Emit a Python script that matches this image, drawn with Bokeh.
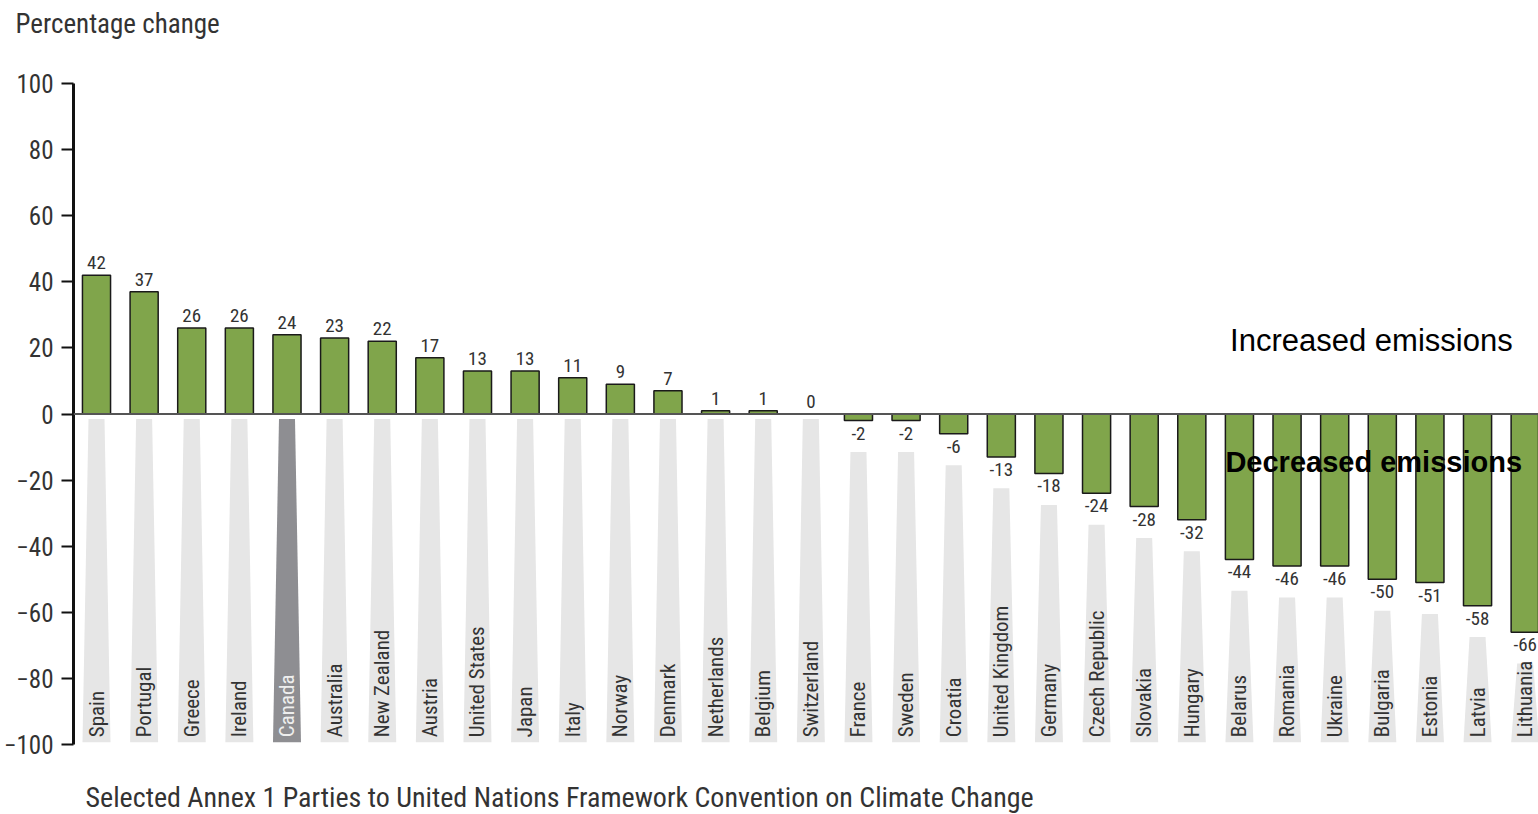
import math
from bokeh.plotting import figure
from bokeh.models import (ColumnDataSource, Range1d, FixedTicker, Span, Title)
from bokeh.core.properties import value
from bokeh.embed import file_html
from bokeh.resources import INLINE

countries = ["Spain", "Portugal", "Greece", "Ireland", "Canada", "Australia",
             "New Zealand", "Austria", "United States", "Japan", "Italy", "Norway",
             "Denmark", "Netherlands", "Belgium", "Switzerland", "France", "Sweden",
             "Croatia", "United Kingdom", "Germany", "Czech Republic", "Slovakia",
             "Hungary", "Belarus", "Romania", "Ukraine", "Bulgaria", "Estonia",
             "Latvia", "Lithuania"]
values = [42, 37, 26, 26, 24, 23, 22, 17, 13, 13, 11, 9, 7, 1, 1, 0,
          -2, -2, -6, -13, -18, -24, -28, -32, -44, -46, -46, -50, -51, -58, -66]
highlight = "Canada"
y_ticks = [-100, -80, -60, -40, -20, 0, 20, 40, 60, 80, 100]

NARROW = "Liberation Sans Narrow, Roboto Condensed, DejaVu Sans Condensed, sans-serif"
GREEN = "#80a54b"
TEXT = "#333333"

idx = list(range(len(countries)))

p = figure(width=1538, height=814, output_backend="svg", toolbar_location=None,
           x_range=Range1d(-0.483, 30.28), y_range=Range1d(-100, 100),
           min_border_left=73, min_border_right=0, min_border_top=83,
           min_border_bottom=70, background_fill_color="white",
           border_fill_color="white")
p.outline_line_color = None
p.grid.visible = False
p.xaxis.visible = False

# y axis
ya = p.yaxis[0]
ya.ticker = FixedTicker(ticks=y_ticks)
ya.axis_line_width = 3
ya.axis_line_color = "#111111"
ya.major_tick_line_width = 2
ya.major_tick_line_color = "#111111"
ya.major_tick_out = 12
ya.major_tick_in = 0
ya.minor_tick_line_color = None
ya.major_label_text_font = NARROW
ya.major_label_text_font_size = "25px"
ya.major_label_text_color = TEXT
ya.major_label_standoff = 8

# label trapezoids
xs_list, ys_list, fills, tcolors = [], [], [], []
for i, v in zip(idx, values):
    top = -1.5 if v >= 0 else v - 9.5
    bot = -99.3
    tw, bw = 0.168, 0.294
    xs_list.append([i - tw, i + tw, i + bw, i - bw])
    ys_list.append([top, top, bot, bot])
    hi = countries[i] == highlight
    fills.append("#8e8e92" if hi else "#e6e6e6")
    tcolors.append("#eeeeee" if hi else TEXT)
psrc = ColumnDataSource(dict(xs=xs_list, ys=ys_list, fill=fills))
p.patches("xs", "ys", source=psrc, fill_color="fill", line_color=None)

# bars
bsrc = ColumnDataSource(dict(x=idx, top=values))
p.vbar(x="x", top="top", bottom=0, width=0.59, source=bsrc,
       fill_color=GREEN, line_color="#1a1a1a", line_width=1.5)

# zero line
p.add_layout(Span(location=0, dimension="width", line_color="#555555", line_width=2))

# country labels
lsrc = ColumnDataSource(dict(x=idx, y=[-97.8] * len(idx), t=countries, c=tcolors))
p.text(x="x", y="y", text="t", source=lsrc, angle=math.pi / 2,
       text_align="left", text_baseline="middle", text_color="c",
       text_font=value(NARROW), text_font_size="21px")

# value labels
pos = [(i, v) for i, v in zip(idx, values) if v >= 0]
neg = [(i, v) for i, v in zip(idx, values) if v < 0]
p.text(x=[a for a, _ in pos], y=[b for _, b in pos], text=[str(b) for _, b in pos],
       text_align="center", text_baseline="bottom", y_offset=-6,
       text_color=TEXT, text_font=value(NARROW), text_font_size="19px")
p.text(x=[a for a, _ in neg], y=[b for _, b in neg], text=[str(b) for _, b in neg],
       text_align="center", text_baseline="top", y_offset=6,
       text_color=TEXT, text_font=value(NARROW), text_font_size="19px")

# annotations
p.text(x=[26.77], y=[22.2], text=["Increased emissions"], text_align="center",
       text_baseline="middle", text_color="#000000",
       text_font=value("Liberation Sans"), text_font_size="31px")
p.text(x=[26.82], y=[-14.4], text=["Decreased emissions"], text_align="center",
       text_baseline="middle", text_color="#000000", text_font_style="bold",
       text_font=value("Liberation Sans"), text_font_size="29px")

# spacers (closest to the frame) then titles
p.add_layout(Title(text=" ", text_font_size="1px", standoff=36), "above")
p.title = Title(text="Percentage change", align="left", offset=-58, standoff=10,
                text_font=NARROW, text_font_size="27px",
                text_font_style="normal", text_color=TEXT)
p.add_layout(Title(text=" ", text_font_size="1px", standoff=31), "below")
p.add_layout(Title(text="Selected Annex 1 Parties to United Nations Framework Convention on Climate Change",
                   align="left", offset=12, standoff=0, text_font=NARROW, text_font_size="28px",
                   text_font_style="normal", text_color=TEXT), "below")

open("out.html", "w").write(file_html(p, INLINE))
